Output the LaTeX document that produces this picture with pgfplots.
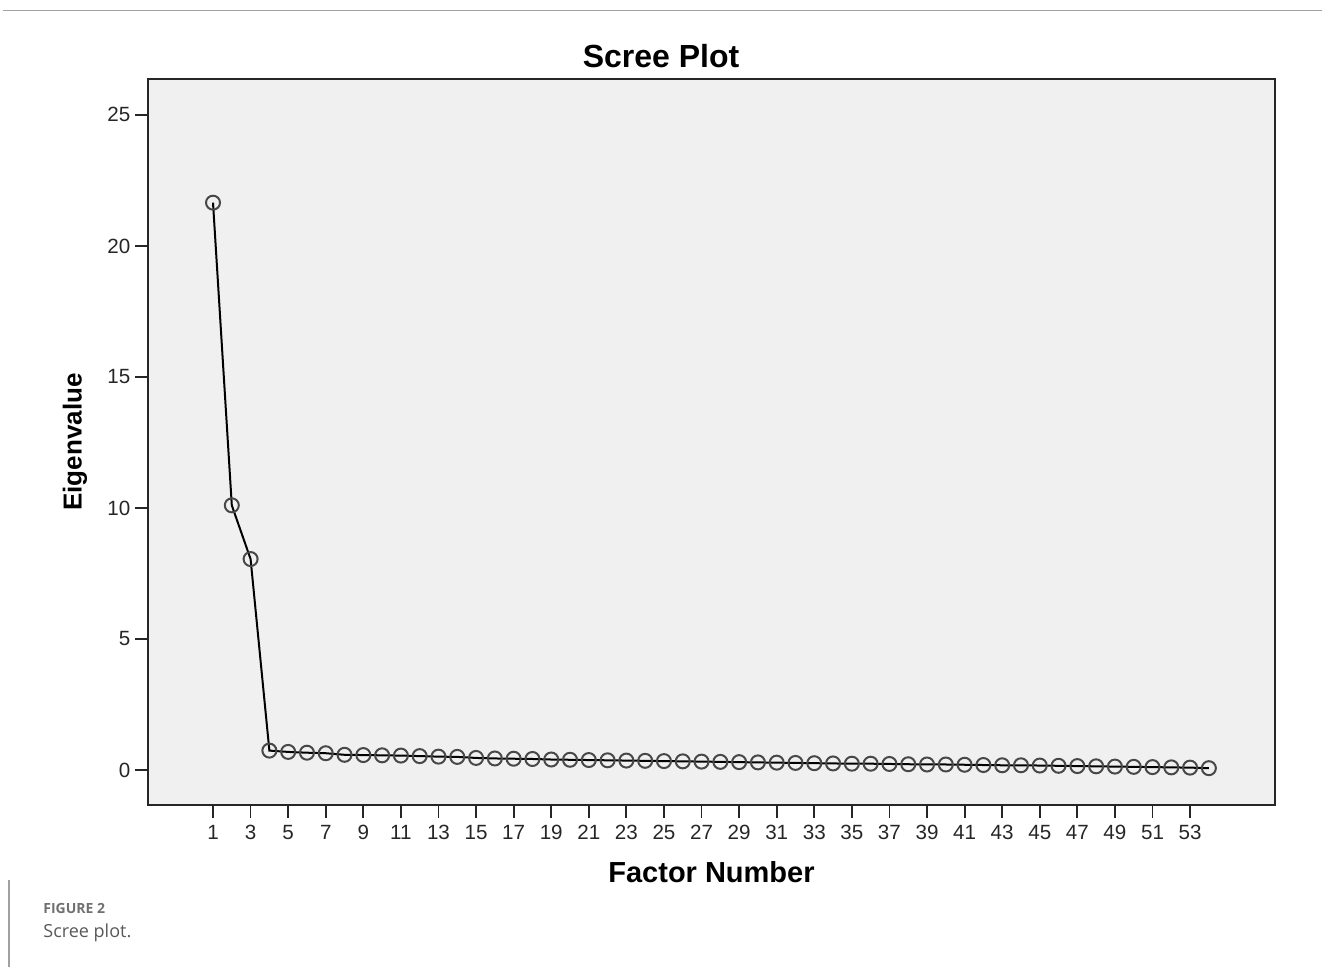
\documentclass[border=0pt]{standalone}
\usepackage{fontspec}
\setmainfont{Liberation Sans}
\newfontfamily\capfont{Open Sans}
\usepackage{pgfplots}
\pgfplotsset{compat=1.18}
\definecolor{plotbg}{HTML}{F0F0F0}
\definecolor{markc}{HTML}{484848}
\definecolor{capgray}{HTML}{707070}
\definecolor{rulegray}{HTML}{A0A0A0}
\begin{document}
\begin{tikzpicture}
\path[use as bounding box] (0,0) rectangle (661pt,-483.5pt);
\draw[rulegray, line width=0.6pt] (1.5pt,-5.2pt) -- (661pt,-5.2pt);
\draw[rulegray, line width=0.6pt] (4.5pt,-440pt) -- (4.5pt,-483.5pt);
\begin{axis}[
  at={(74pt,-402.5pt)}, anchor=south west,
  scale only axis, width=563.5pt, height=363pt,
  xmin=-2.46, xmax=57.52, ymin=-1.336, ymax=26.37,
  axis background/.style={fill=plotbg},
  axis line style={line width=1.1pt, draw=black!85},
  xtick={1,3,...,53}, ytick={0,5,...,25},
  xtick pos=bottom, ytick pos=left,
  tick align=outside, major tick length=6.3pt,
  tick style={line width=0.9pt, black!85},
  /pgf/number format/assume math mode=true,
  ticklabel style={font=\fontsize{10.3}{12}\selectfont, black!85},
  xticklabel style={text height=7.5pt, text depth=0pt},
  yticklabel style={xshift=1pt},
  title={Scree Plot},
  title style={at={(axis description cs:0.4552,1.0152)}, anchor=center, font=\fontsize{16}{19}\selectfont\bfseries},
  xlabel={Factor Number},
  xlabel style={at={(axis description cs:0.5,-0.0923)}, anchor=center, font=\fontsize{14.5}{17}\selectfont\bfseries},
  ylabel={Eigenvalue},
  ylabel style={at={(axis description cs:-0.0648,0.5)}, anchor=center, font=\fontsize{13}{16}\selectfont\bfseries},
  clip=false,
]
\addplot[black, line width=1pt, mark=o, mark size=3.5pt,
  mark options={draw=markc, line width=1pt, fill=none}] coordinates {
(1,21.65) (2,10.1) (3,8.05) (4,0.74) (5,0.69) (6,0.66) (7,0.64) (8,0.58)
(9,0.57) (10,0.56) (11,0.55) (12,0.53) (13,0.51) (14,0.50) (15,0.46)
(16,0.44) (17,0.43) (18,0.42) (19,0.40) (20,0.39) (21,0.38) (22,0.37)
(23,0.36) (24,0.35) (25,0.34) (26,0.33) (27,0.32) (28,0.31) (29,0.30)
(30,0.29) (31,0.28) (32,0.27) (33,0.26) (34,0.25) (35,0.24) (36,0.24)
(37,0.23) (38,0.22) (39,0.21) (40,0.21) (41,0.20) (42,0.19) (43,0.18)
(44,0.18) (45,0.17) (46,0.16) (47,0.15) (48,0.14) (49,0.13) (50,0.12)
(51,0.11) (52,0.10) (53,0.09) (54,0.07)
};
\end{axis}
\node[anchor=west, inner sep=0pt, text=capgray, font=\capfont\fontsize{7}{9}\selectfont\bfseries] at (21.5pt,-454pt) {FIGURE 2};
\node[anchor=west, inner sep=0pt, text=black!65, font=\capfont\fontsize{9}{11}\selectfont] at (21.5pt,-466.5pt) {Scree plot.};
\end{tikzpicture}
\end{document}
